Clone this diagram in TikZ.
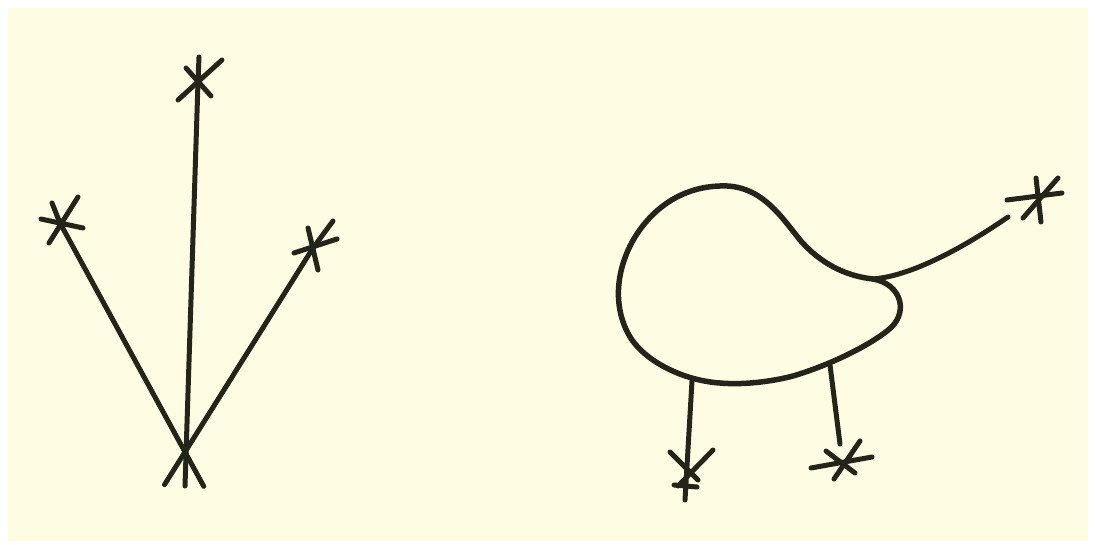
\documentclass[tikz,border=0pt]{standalone}
\usetikzlibrary{calc}
\begin{document}
\begin{tikzpicture}[x=1pt,y=-1pt,
  ink/.style={draw=inkc,line width=5pt,line cap=round,line join=round},
  arm/.style={draw=inkc,line width=5pt,line cap=round}]
\definecolor{inkc}{HTML}{24241A}
\definecolor{paper}{HTML}{FEFDE4}
\useasboundingbox (0,0) rectangle (1095,545);
\fill[white] (0,0) rectangle (1095,545);
\fill[paper] (8,8) rectangle (1088,541);
% left figure
\coordinate (base) at (185,452);
\coordinate (top) at (198,82);
\coordinate (ls) at (60,223);
\coordinate (rs) at (313,248);
\draw[ink] (185,486) -- (top);
\draw[ink] (ls) -- ($(ls)!1.15!(base)$);
\draw[ink] (rs) -- ($(rs)!1.16!(base)$);
% top star
\draw[arm] (199,57) -- (top);
\draw[arm] (178,100) -- (222,60);
\draw[arm] (186,68) -- (211,96);
% left star
\draw[arm] (41,219) -- (83,228);
\draw[arm] (78,197) -- (49,243);
\draw[arm] (52,203) -- (ls);
% right star
\draw[arm] (294,253) -- (337,239);
\draw[arm] (333,221) -- (rs);
\draw[arm] (308,228) -- (318,270);
% right figure: blob
\coordinate (neck) at (873,279);
\draw[ink,line width=5.5pt] (720,186)
  .. controls (760,184) and (780,215) .. (800,240)
  .. controls (820,263) and (845,276) .. (neck)
  .. controls (902,284) and (910,314) .. (887,331)
  .. controls (868,346) and (830,365) .. (793,376)
  .. controls (770,382) and (742,385) .. (720,383)
  .. controls (688,381) and (650,365) .. (632,340)
  .. controls (612,310) and (615,270) .. (635,237)
  .. controls (655,205) and (685,187) .. cycle;
% tail
\coordinate (tailend) at (1008,217);
\draw[ink] (neck) .. controls (910,276) and (960,250) .. (tailend);
% tail star
\coordinate (ts) at (1038,202);
\draw[arm] (1007,200) -- (1062,193);
\draw[arm] (1058,178) -- (1023,218);
\draw[arm] (1036,178) -- (1041,222);
% legs
\coordinate (l1top) at (692,381);
\coordinate (l1end) at (685,500);
\coordinate (l2top) at (830,365);
\coordinate (l2end) at (840,444);
\draw[ink] (l1top) -- (l1end);
\draw[ink] (l2top) -- (l2end);
% left leg star
\draw[arm] (670,452) -- (698,480);
\draw[arm] (713,450) -- (678,486);
\draw[arm] (674,485) -- (697,487);
% right leg star
\draw[arm] (811,468) -- (872,457);
\draw[arm] (826,451) -- (855,473);
\draw[arm] (860,441) -- (834,479);
\end{tikzpicture}
\end{document}
